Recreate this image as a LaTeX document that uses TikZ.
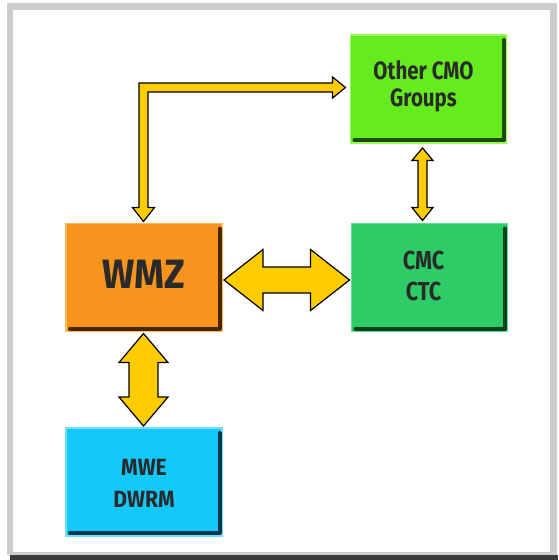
\documentclass[tikz,border=0pt]{standalone}
\usepackage{fontspec}
\setmainfont{Fira Sans}
\usetikzlibrary{calc}
\definecolor{txt}{RGB}{42,42,42}
\definecolor{arrowfill}{RGB}{255,204,0}
\definecolor{limefill}{RGB}{100,236,30}
\definecolor{limelight}{RGB}{150,252,90}
\definecolor{limedark}{RGB}{30,75,10}
\definecolor{greenfill}{RGB}{46,204,102}
\definecolor{greenlight}{RGB}{100,225,140}
\definecolor{greendark}{RGB}{15,65,30}
\definecolor{orangefill}{RGB}{247,148,30}
\definecolor{orangelight}{RGB}{252,185,90}
\definecolor{orangedark}{RGB}{75,38,5}
\definecolor{cyanfill}{RGB}{20,200,250}
\definecolor{cyanlight}{RGB}{110,225,255}
\definecolor{cyandark}{RGB}{10,55,75}
\definecolor{framegray}{RGB}{205,205,205}
\definecolor{framedark}{RGB}{60,60,60}
\newcommand{\bevelbox}[2]{%
  \draw[line width=4pt,#2,line cap=round,line join=round]
    ($(#1.north east)+(-2.5pt,-5pt)$) -- ($(#1.south east)+(-2.5pt,3pt)$)
    -- ($(#1.south west)+(4pt,3pt)$);}
\newcommand{\nx}[2]{\scalebox{#1}[1]{#2}}
\tikzset{
  unitbox/.style={rectangle,inner sep=0pt,outer sep=0pt,line width=1.2pt,
    minimum width=156pt,minimum height=108pt},
  boxlabel/.style={text=txt,align=center,anchor=base,inner sep=0pt},
  blockarrow/.style={draw=black,line width=1.2pt,fill=arrowfill,line join=miter},
}
\begin{document}
\begin{tikzpicture}[x=1pt,y=-1pt]
\useasboundingbox (0,0) rectangle (558,560);
% frame
\fill[framegray] (7,3) rectangle (557,555);
\fill[white] (13,10) rectangle (550,552);
\fill[framedark] (10,555) rectangle (558,560);
% boxes
\node[unitbox,fill=limefill,draw=limelight] (other) at (428.5,89) {};
\bevelbox{other}{limedark}
\node[unitbox,fill=greenfill,draw=greenlight] (cmc) at (429.5,277.5) {};
\bevelbox{cmc}{greendark}
\node[unitbox,fill=orangefill,draw=orangelight] (wmz) at (144,277.5) {};
\bevelbox{wmz}{orangedark}
\node[unitbox,fill=cyanfill,draw=cyanlight] (mwe) at (144,482) {};
\bevelbox{mwe}{cyandark}
% labels
\node[boxlabel,font=\bfseries\fontsize{25}{26.5}\selectfont] (otherlbl) at ($(other.center)+(-5pt,-17pt)$) {\nx{0.82}{Other CMO}\\\nx{0.82}{Groups}};
\node[boxlabel,font=\bfseries\fontsize{41}{42}\selectfont] (wmzlbl) at ($(wmz.center)+(0pt,-10.5pt)$) {\nx{0.93}{WMZ}};
\node[boxlabel,font=\bfseries\fontsize{26}{31}\selectfont] (cmclbl) at ($(cmc.center)+(-6pt,-22.5pt)$) {\nx{0.83}{CMC}\\\nx{0.83}{CTC}};
\node[boxlabel,font=\bfseries\fontsize{23.5}{31.5}\selectfont] (mwelbl) at ($(mwe.center)+(0pt,-25pt)$) {\nx{0.9}{MWE}\\\nx{0.9}{DWRM}};
% horizontal double arrow WMZ <-> CMC
\draw[blockarrow] let \p1=($(wmz.east)+(2pt,-2.5pt)$), \p2=($(cmc.west)+(-2pt,-2.5pt)$) in
  (\x1,\y1) -- (\x1+39pt,\y1+30.5pt) -- (\x1+39pt,\y1+13pt) -- (\x2-39pt,\y1+13pt)
  -- (\x2-39pt,\y1+30.5pt) -- (\x2,\y1) -- (\x2-39pt,\y1-30.5pt) -- (\x2-39pt,\y1-13pt)
  -- (\x1+39pt,\y1-13pt) -- (\x1+39pt,\y1-30.5pt) -- cycle;
% vertical double arrow WMZ <-> MWE
\draw[blockarrow] let \p1=($(wmz.south)+(-0.5pt,-2pt)$), \p2=($(mwe.north)+(-0.5pt,2pt)$) in
  (\x1,\y1) -- (\x1+24.5pt,\y1-29pt) -- (\x1+14.5pt,\y1-29pt) -- (\x1+14.5pt,\y2+29pt)
  -- (\x1+24.5pt,\y2+29pt) -- (\x1,\y2) -- (\x1-24.5pt,\y2+29pt) -- (\x1-14.5pt,\y2+29pt)
  -- (\x1-14.5pt,\y1-29pt) -- (\x1-24.5pt,\y1-29pt) -- cycle;
% small vertical double arrow Other <-> CMC
\draw[blockarrow] let \p1=($(other.south)+(-6pt,-5pt)$), \p2=($(cmc.north)+(-6.5pt,3pt)$) in
  (\x1,\y1) -- (\x1+10.5pt,\y1-12.5pt) -- (\x1+4.5pt,\y1-12.5pt) -- (\x1+4.5pt,\y2+13pt)
  -- (\x1+10.5pt,\y2+13pt) -- (\x1,\y2) -- (\x1-10.5pt,\y2+13pt) -- (\x1-4.5pt,\y2+13pt)
  -- (\x1-4.5pt,\y1-12.5pt) -- (\x1-10.5pt,\y1-12.5pt) -- cycle;
% L-shaped arrow WMZ <-> Other
\draw[blockarrow] let \p1=($(wmz.north)+(-0.5pt,2pt)$), \p2=($(other.west)+(-5pt,1.5pt)$) in
  (\x1,\y1) -- (\x1+11pt,\y1+14pt) -- (\x1+4.5pt,\y1+14pt) -- (\x1+4.5pt,\y2-4.5pt)
  -- (\x2-13pt,\y2-4.5pt) -- (\x2-13pt,\y2-10.5pt) -- (\x2,\y2) -- (\x2-13pt,\y2+10.5pt)
  -- (\x2-13pt,\y2+4.5pt) -- (\x1-4.5pt,\y2+4.5pt) -- (\x1-4.5pt,\y1+14pt)
  -- (\x1-11pt,\y1+14pt) -- cycle;
\end{tikzpicture}
\end{document}
